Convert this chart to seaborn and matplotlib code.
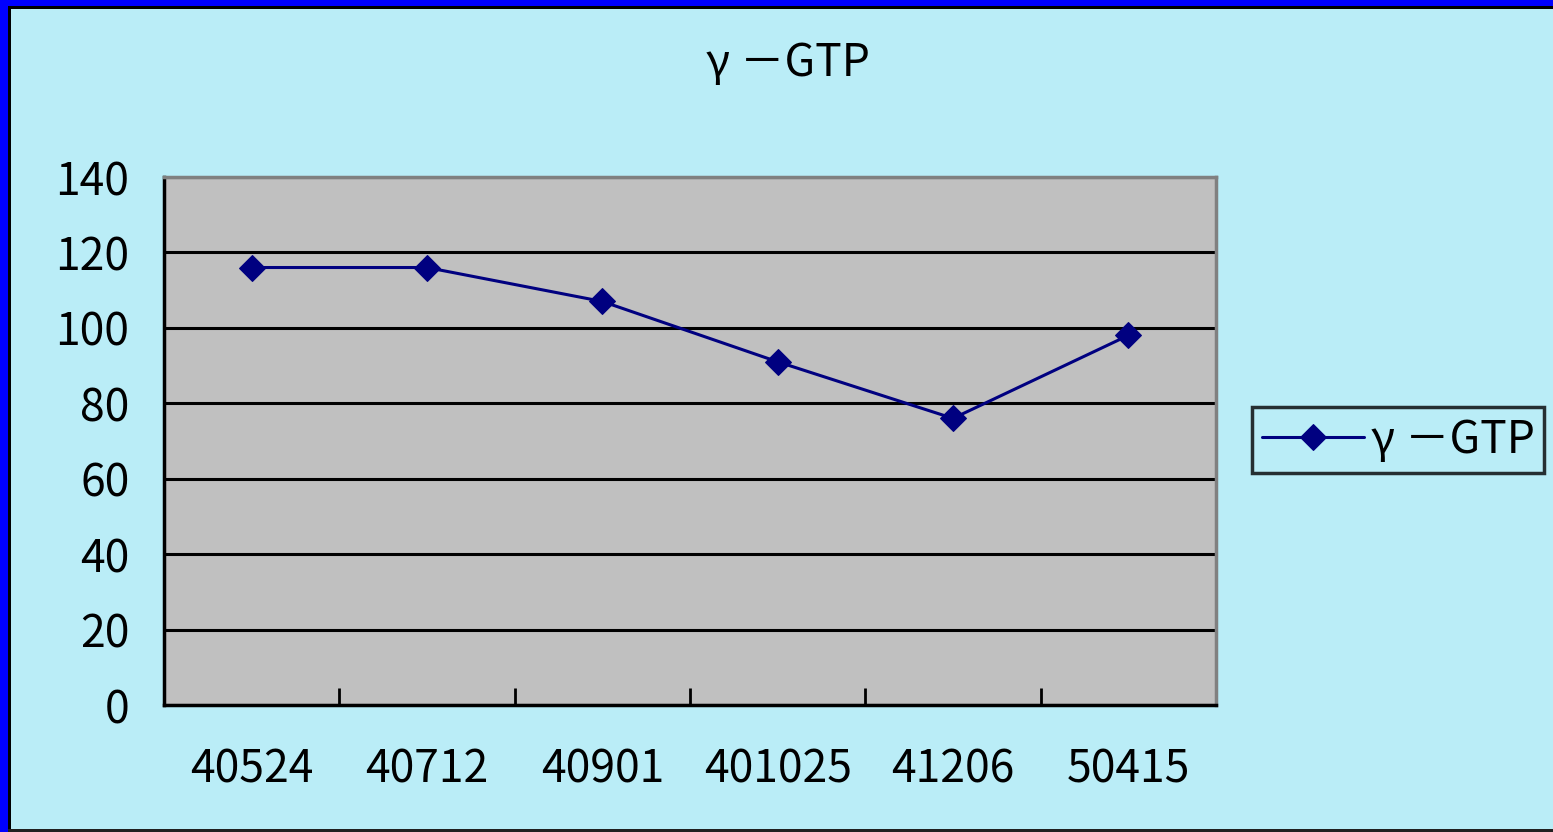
import matplotlib
matplotlib.use("Agg")
import matplotlib.pyplot as plt
import matplotlib.patches as mpatches
from matplotlib.ticker import FixedLocator
import seaborn as sns
import pandas as pd

categories = ["40524", "40712", "40901", "401025", "41206", "50415"]
values = [116, 116, 107, 91, 76, 98]
series_name = "γ －GTP"
yticks = [0, 20, 40, 60, 80, 100, 120, 140]

BG = "#BAEDF7"
PLOT_BG = "#C0C0C0"
LINE = "#000080"

sns.set_theme(style="white")
plt.rcParams["font.family"] = ["Noto Sans CJK JP", "DejaVu Sans"]
plt.rcParams["text.color"] = "black"

fig = plt.figure(figsize=(15.53, 8.32), dpi=100)
fig.patch.set_facecolor(BG)

ax = fig.add_axes([164 / 1553, 1 - 705 / 832, (1216 - 164) / 1553, (705 - 177) / 832])
ax.set_facecolor(PLOT_BG)

df = pd.DataFrame({"date": categories, "value": values, "series": series_name})
sns.lineplot(data=df, x="date", y="value", hue="series", palette=[LINE],
             marker="D", markersize=13.5, markeredgecolor=LINE,
             linewidth=2.2, ax=ax, sort=False, zorder=5)

ax.set_xlim(-0.5, len(categories) - 0.5)
ax.set_ylim(0, 140)
ax.set_yticks(yticks)
ax.yaxis.grid(True, color="black", linewidth=2.2)
ax.xaxis.grid(False)
ax.set_axisbelow(True)

ax.set_xticks(range(len(categories)))
ax.set_xticklabels(categories)
ax.xaxis.set_minor_locator(FixedLocator([i + 0.5 for i in range(len(categories))]))
ax.tick_params(axis="x", which="major", length=0, pad=30, labelsize=32, colors="black")
ax.tick_params(axis="x", which="minor", direction="in", length=12, width=2, color="black", bottom=True)
ax.tick_params(axis="y", which="major", direction="in", length=13, width=2, color="black",
               pad=25, labelsize=32, labelcolor="black", left=True)

for side in ["left", "bottom"]:
    ax.spines[side].set_color("black")
    ax.spines[side].set_linewidth(2.5)
for side in ["top", "right"]:
    ax.spines[side].set_color("#808080")
    ax.spines[side].set_linewidth(2.5)

ax.set_xlabel("")
ax.set_ylabel("")

fig.text(788 / 1553, 1 - 63 / 832, series_name, ha="center", va="center",
         fontsize=32, color="black")

leg = ax.legend(loc="center left", bbox_to_anchor=(1252 / 1553, 1 - 440 / 832),
                bbox_transform=fig.transFigure, frameon=True, fontsize=32,
                handlelength=2.3, handletextpad=0.15, borderpad=0.22,
                borderaxespad=0, fancybox=False, facecolor=BG, edgecolor="black",
                markerscale=1.0)
leg.get_frame().set_linewidth(2.5)
leg.set_title(None)
for t in leg.get_texts():
    t.set_color("black")

# Figure border: blue band on top and left, thin dark inner line
W, H = 1553, 832
def px(x0, y0, w, h, color):
    fig.patches.append(mpatches.Rectangle((x0 / W, 1 - (y0 + h) / H), w / W, h / H,
                                          transform=fig.transFigure, facecolor=color,
                                          edgecolor="none", zorder=10))
px(0, 0, W, 6, "#0000FF")
px(0, 0, 8, H, "#0000FF")
px(8, 6, W - 8, 3, "black")
px(8, 6, 3, H - 6, "black")
px(8, 829, W - 8, 3, "#202020")

fig.savefig("out.png", dpi=100, facecolor=BG)
